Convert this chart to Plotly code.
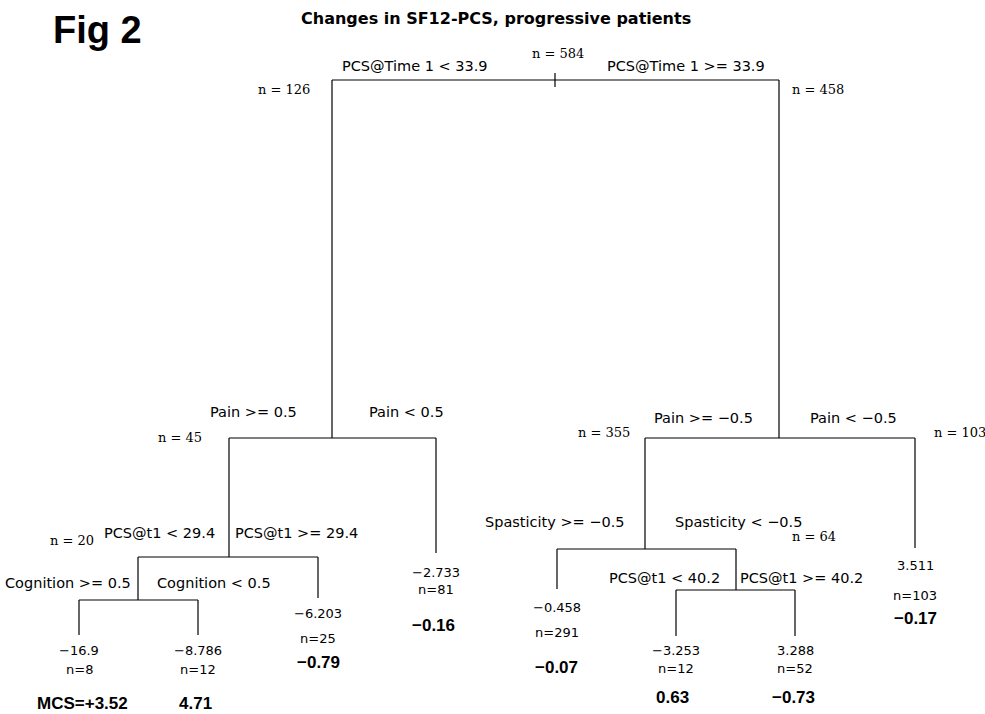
import plotly.graph_objects as go

# ---------------- data ----------------
node_id     = [1, 2, 3, 4, 5, 6, 7, 8, 9, 12, 13, 16, 17, 26, 27]
node_parent = [0, 1, 1, 2, 2, 3, 3, 4, 4, 6, 6, 8, 8, 13, 13]
node_n      = [584, 126, 458, 45, 81, 355, 103, 20, 25, 291, 64, 8, 12, 12, 52]

split_node  = [1, 2, 3, 4, 6, 8, 13]
split_left  = ["PCS@Time 1 < 33.9", "Pain >= 0.5", "Pain >= \u22120.5", "PCS@t1 < 29.4",
               "Spasticity >= \u22120.5", "Cognition >= 0.5", "PCS@t1 < 40.2"]
split_right = ["PCS@Time 1 >= 33.9", "Pain < 0.5", "Pain < \u22120.5", "PCS@t1 >= 29.4",
               "Spasticity < \u22120.5", "Cognition < 0.5", "PCS@t1 >= 40.2"]

leaf_node   = [5, 7, 9, 12, 16, 17, 26, 27]
leaf_value  = ["\u22122.733", "3.511", "\u22126.203", "\u22120.458", "\u221216.9", "\u22128.786", "\u22123.253", "3.288"]
leaf_mcs    = ["\u22120.16", "\u22120.17", "\u22120.79", "\u22120.07", "MCS=+3.52", "4.71", "0.63", "\u22120.73"]

title_text = "Changes in SF12-PCS, progressive patients"
fig_label = "Fig 2"

# ---------------- layout (positions / styles) ----------------
node_x = [555, 332, 779, 229, 436, 645, 915, 138, 318, 557, 736, 79, 198, 676, 795]
node_y = [80, 438, 438, 557, 553, 549, 548, 600, 598, 589, 590, 635, 635, 636, 636]

split_left_end    = [490, 299, 755, 217, 627, 133, 722]
split_right_start = [605, 367, 808, 233, 673, 155, 738]
split_label_y     = [66, 412, 418, 533, 522, 583, 578]

nlabel_node = [1, 2, 3, 4, 6, 7, 8, 13]
nlabel_x    = [558, 284, 818, 180, 604, 960, 72, 814]
nlabel_y    = [53, 89, 89, 437, 432, 432, 540, 536]

leaf_val_dy  = [19, 17, 15, 18, 15, 15, 14, 14]
leaf_n_dy    = [36, 47, 40, 43, 34, 34, 32, 32]
leaf_mcs_dy  = [72, 70, 64, 78, 68, 68, 61, 61]
leaf_mcs_dx  = [-3, 0, 0, -1, 3, -3, -4, -2]

W, H = 985, 714
LINE = dict(color="black", width=1.2)
SANS = "DejaVu Sans, Verdana, sans-serif"
SERIF = "DejaVu Serif, serif"
BOLD = "Liberation Sans, Arial, sans-serif"

pos = {nid: (x, y) for nid, x, y in zip(node_id, node_x, node_y)}
nn = {nid: n for nid, n in zip(node_id, node_n)}

xs, ys = [], []
for nid, par in zip(node_id, node_parent):
    if par == 0:
        continue
    px, py = pos[par]
    x, y = pos[nid]
    xs += [x, x, None]
    ys += [py, y, None]
for nid in split_node:
    kids = [pos[c][0] for c, p in zip(node_id, node_parent) if p == nid]
    y = pos[nid][1]
    xs += [min(kids), max(kids), None]
    ys += [y, y, None]
rx, ry = pos[1]
xs += [rx, rx, None]
ys += [ry - 7, ry + 7, None]

fig = go.Figure()
fig.add_trace(go.Scatter(x=xs, y=ys, mode="lines", line=LINE, hoverinfo="skip", showlegend=False))

ann = []
def txt(x, y, s, size, family=SANS, bold=False, xanchor="center"):
    ann.append(dict(x=x, y=y, xref="x", yref="y", text=("<b>%s</b>" % s) if bold else s,
                    showarrow=False, xanchor=xanchor, yanchor="middle",
                    font=dict(family=family, size=size, color="black")))

for nid, l, r, le, rs, y in zip(split_node, split_left, split_right, split_left_end, split_right_start, split_label_y):
    txt(le, y, l, 14.5, xanchor="right")
    txt(rs, y, r, 14.5, xanchor="left")

for nid, x, y in zip(nlabel_node, nlabel_x, nlabel_y):
    txt(x, y, "n = %d" % nn[nid], 13, family=SERIF)

for nid, v, m, dv, dn, dm, dx in zip(leaf_node, leaf_value, leaf_mcs, leaf_val_dy, leaf_n_dy, leaf_mcs_dy, leaf_mcs_dx):
    x, y = pos[nid]
    txt(x, y + dv, v, 13)
    txt(x, y + dn, "n=%d" % nn[nid], 13)
    txt(x + dx, y + dm, m, 17, family=BOLD, bold=True)

txt(496, 18, title_text, 16, family="DejaVu Sans, sans-serif", bold=True)
txt(97, 30, fig_label, 38, family=BOLD, bold=True)

fig.update_layout(
    width=W, height=H,
    margin=dict(l=0, r=0, t=0, b=0),
    paper_bgcolor="white", plot_bgcolor="white",
    xaxis=dict(range=[0, W], visible=False, fixedrange=True),
    yaxis=dict(range=[H, 0], visible=False, fixedrange=True),
    annotations=ann,
    showlegend=False,
)
fig.write_html("out.html", config={"displayModeBar": False},
               post_script="document.body.style.margin='0';document.body.style.padding='0';document.body.style.overflow='hidden';")
